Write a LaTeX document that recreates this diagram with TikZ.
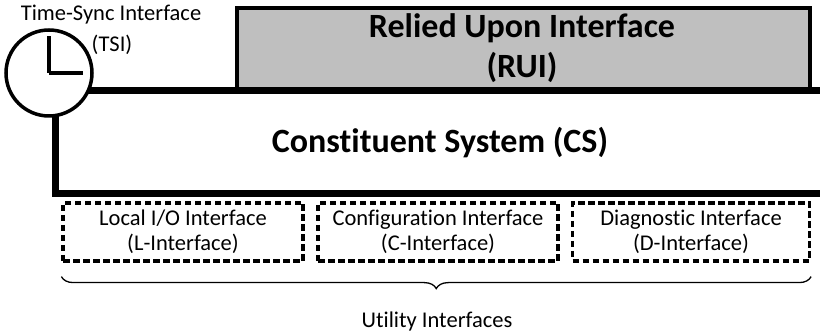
\documentclass[tikz,border=0pt]{standalone}
\usepackage{fontspec}
\setmainfont{Carlito}[Ligatures=NoCommon]
\usetikzlibrary{positioning,decorations.pathreplacing}

\begin{document}
\begin{tikzpicture}[x=1pt,y=-1pt,
    utilbox/.style={draw,line width=3.2pt,dash pattern=on 6.5pt off 3.5pt,
      minimum width=240pt,minimum height=58pt,align=center,
      font=\fontsize{22.5}{25}\selectfont},
    smalltext/.style={font=\fontsize{22.5}{25}\selectfont},
    bigtext/.style={font=\bfseries\fontsize{34}{40}\selectfont,align=center}]
   \useasboundingbox (0,0) rectangle (820,336);
   % relied upon interface
   \draw[fill=black!25,line width=4pt] (237,8) rectangle (810,91);
   \node[bigtext] (rui) at (522,48) {Relied Upon Interface\\(RUI)};
   % constituent system
   \draw[fill=white,line width=7pt] (55,91) rectangle (840,194);
   \node[bigtext] (cs) at (440,143) {Constituent System (CS)};
   % time-sync interface
   \node[draw,circle,fill=white,line width=3.5pt,minimum size=86pt] (clock) at (49,73) {};
   \draw[line width=3.5pt] (clock.center) -- ++(0,-37) (clock.center) -- ++(34,0);
   \node[smalltext] (tsi) at (111,15) {Time-Sync Interface};
   \node[smalltext] (tsiabbr) at (112,45) {(TSI)};
   % utility interfaces
   \node[utilbox] (lif) at (183,232) {Local I/O Interface\\(L-Interface)};
   \node[utilbox] (cif) at (438,232) {Configuration Interface\\(C-Interface)};
   \node[utilbox,minimum width=237pt] (dif) at (691,232) {Diagnostic Interface\\(D-Interface)};
   \draw[line width=1.3pt,decorate,decoration={brace,mirror,amplitude=12pt}]
     ([yshift=-14pt]lif.south west) -- ([yshift=-14pt]dif.south east) node[midway] (brc) {};
   \node[smalltext] (util) at (437,322) {Utility Interfaces};
\end{tikzpicture}
\end{document}
